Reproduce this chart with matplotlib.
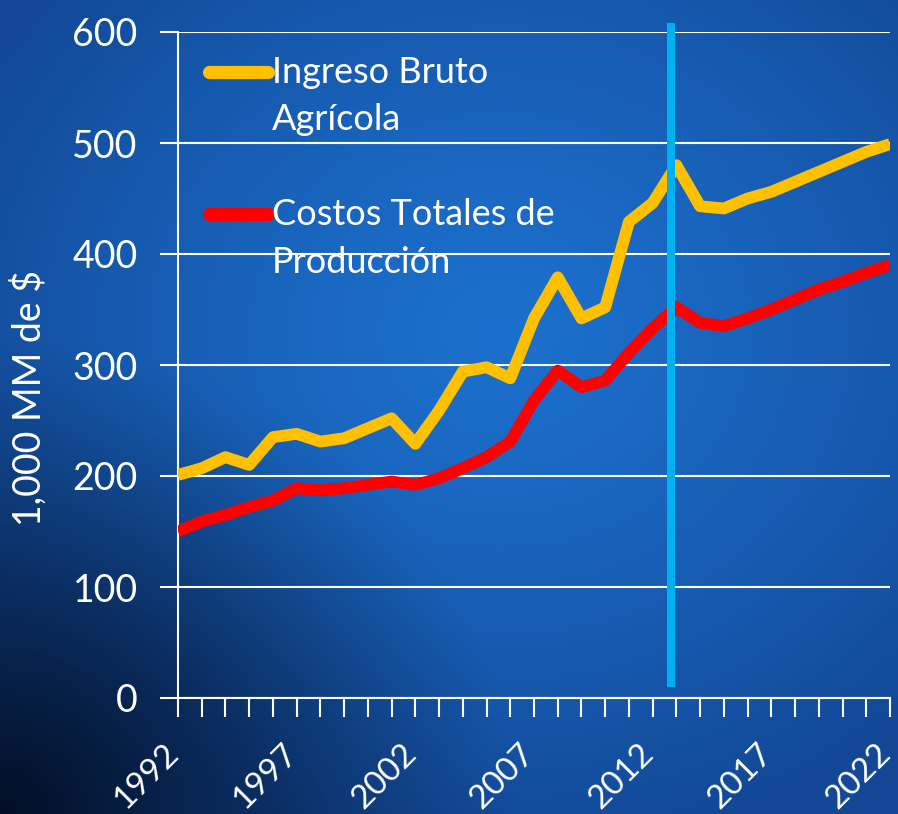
import numpy as np
import matplotlib
matplotlib.use("Agg")
import matplotlib.pyplot as plt
import matplotlib.transforms as mtransforms
from matplotlib.lines import Line2D

years = list(range(1992, 2023))
ingreso = [201, 207, 217, 210, 235, 238, 231, 234, 243, 252, 229, 259, 294, 298, 288,
           342, 379, 342, 352, 429, 446, 480, 443, 441, 450, 456, 465, 474, 483, 492, 499]
costos = [150, 159, 165, 172, 178, 189, 187, 189, 192, 195, 192, 198, 207, 217, 231,
          268, 295, 280, 286, 311, 333, 352, 338, 335, 342, 350, 359, 368, 375, 383, 390]
label_ingreso = ["Ingreso Bruto", "Agrícola"]
label_costos = ["Costos Totales de", "Producción"]
ylabel = "1,000 MM de $"
xtick_years = [1992, 1997, 2002, 2007, 2012, 2017, 2022]
yticks = [0, 100, 200, 300, 400, 500, 600]
marker_year = 2012.77

plt.rcParams['font.family'] = ['Lato', 'DejaVu Sans']

W, H = 898, 814
fig = plt.figure(figsize=(W / 100, H / 100), dpi=100)

# background gradient
bg = fig.add_axes([0, 0, 1, 1], zorder=-10)
yy, xx = np.mgrid[0:H, 0:W].astype(float)
cx, cy = 500, 330
d = np.sqrt(((xx - cx) / 600.0) ** 2 + ((yy - cy) / 520.0) ** 2)
t = np.clip(d, 0, 1) ** 1.3
light = np.array([0x1c, 0x70, 0xcd]) / 255.0
mid = np.array([0x12, 0x48, 0x96]) / 255.0
dark = np.array([0x02, 0x0e, 0x24]) / 255.0
img = light[None, None, :] * (1 - t[..., None]) + mid[None, None, :] * t[..., None]
r2 = np.sqrt((xx / 520.0) ** 2 + ((H - yy) / 480.0) ** 2)
s = np.clip(1 - r2, 0, 1) ** 1.1
img = img * (1 - s[..., None]) + dark[None, None, :] * s[..., None]
bg.imshow(img, extent=[0, 1, 0, 1], aspect='auto', origin='upper')
bg.axis('off')

ax = fig.add_axes([178 / W, 1 - 698 / H, 712 / W, 666 / H])
ax.patch.set_alpha(0)
ax.plot(years, ingreso, color='#FFC000', lw=8.5, solid_joinstyle='round', solid_capstyle='butt', zorder=3)
ax.plot(years, costos, color='#FF0000', lw=8.5, solid_joinstyle='round', solid_capstyle='butt', zorder=3)
ax.axvline(marker_year, ymin=0.0225, ymax=1.0075, color='#00B0F0', lw=5.8, zorder=4, clip_on=False)

ax.set_xlim(1992, 2022)
ax.set_ylim(0, 600)
ax.set_yticks(yticks)
ax.set_yticklabels([str(v) for v in yticks], color='white', fontsize=27)
ax.set_xticks(xtick_years)
ax.set_xticklabels([str(v) for v in xtick_years], color='white', fontsize=24, rotation=45,
                   ha='right', va='center', rotation_mode='anchor')
ax.set_xticks(years, minor=True)
ax.tick_params(axis='x', which='both', direction='out', length=14, width=1.5, color='white', pad=12)
ax.tick_params(axis='y', direction='out', length=13, width=1.5, color='white', pad=16)
offset = mtransforms.ScaledTranslation(-0.04, -0.15, fig.dpi_scale_trans)
for lbl in ax.get_xticklabels():
    lbl.set_transform(lbl.get_transform() + offset)
ax.yaxis.grid(True, color='white', lw=1.5)
ax.set_axisbelow(True)
for s_ in ['top', 'right']:
    ax.spines[s_].set_visible(False)
for s_ in ['left', 'bottom']:
    ax.spines[s_].set_color('white')
    ax.spines[s_].set_linewidth(1.5)
ax.set_ylabel(ylabel, color='white', fontsize=27)
ax.yaxis.set_label_coords(-130 / 712, 0.45)

# legend
lx0, lx1, tx = 0.044, 0.127, 0.132
for col, ly, lines, by in [('#FFC000', 0.94, label_ingreso, [0.923, 0.853]),
                           ('#FF0000', 0.727, label_costos, [0.710, 0.638])]:
    ax.add_line(Line2D([lx0, lx1], [ly, ly], transform=ax.transAxes, color=col, lw=9.5,
                       solid_capstyle='round', zorder=5))
    for txt, b in zip(lines, by):
        ax.text(tx, b, txt, transform=ax.transAxes, color='white', fontsize=26,
                va='baseline', ha='left', zorder=5)

fig.savefig('out.png', dpi=100)
